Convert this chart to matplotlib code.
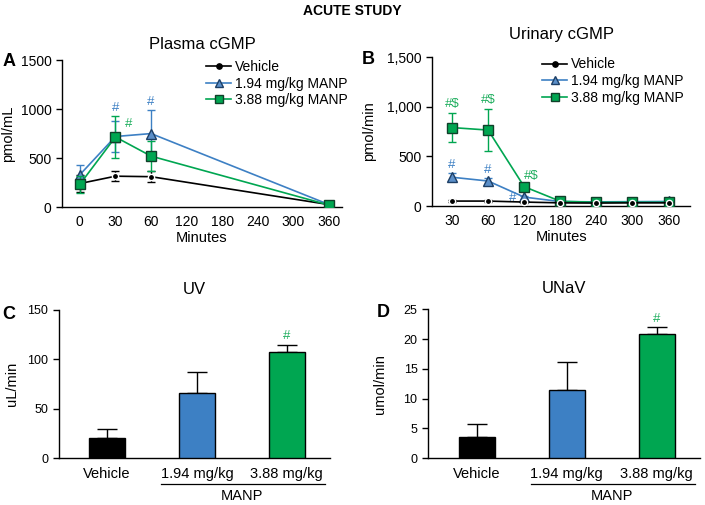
import matplotlib
matplotlib.use("Agg")
import matplotlib.pyplot as plt
from matplotlib.lines import Line2D
from matplotlib.ticker import FuncFormatter

plt.rcParams["font.family"] = ["Liberation Sans", "DejaVu Sans"]

# panel A: plasma cGMP
plasma_ticks = ["0", "30", "60", "120", "180", "240", "300", "360"]
plasma_pos = [0, 1, 2, 7]
plasma_vehicle = [240, 315, 310, 25]
plasma_vehicle_err = [90, 50, 55, 12]
plasma_low = [330, 720, 750, 25]
plasma_low_err = [100, 155, 245, 10]
plasma_high = [232, 715, 520, 20]
plasma_high_err = [90, 215, 150, 10]

# panel B: urinary cGMP
urine_ticks = ["30", "60", "120", "180", "240", "300", "360"]
urine_vehicle = [50, 50, 40, 32, 30, 32, 32]
urine_vehicle_err = [6, 6, 5, 5, 5, 5, 5]
urine_low = [290, 252, 90, 45, 42, 44, 46]
urine_low_err = [40, 30, 15, 8, 6, 6, 6]
urine_high = [790, 765, 195, 48, 38, 38, 38]
urine_high_err = [148, 215, 20, 8, 6, 6, 6]

# panels C, D: bars
bar_labels = ["Vehicle", "1.94 mg/kg", "3.88 mg/kg"]
uv_vals = [20, 66, 107]
uv_err = [10, 21, 7.5]
unav_vals = [3.5, 11.5, 20.9]
unav_err = [2.2, 4.6, 1.1]

legend_labels = ["Vehicle", "1.94 mg/kg MANP", "3.88 mg/kg MANP"]

BLACK = "#000000"
BLUE = "#3d80c4"
BLUE_FACE = "#5b8fc9"
GREEN = "#00a651"
GREEN_TXT = "#1fae5e"

STYLES = [
    dict(color=BLACK, marker="o", ms=4.5, mfc=BLACK, mec="white", mew=1.0),
    dict(color=BLUE, marker="^", ms=6.5, mfc=BLUE_FACE, mec="#1d3f66", mew=1.0),
    dict(color=GREEN, marker="s", ms=7, mfc=GREEN, mec="#10402a", mew=1.0),
]

fig = plt.figure(figsize=(7.05, 5.05), dpi=100)


def style_axes(ax, tick_size):
    for s in ("top", "right"):
        ax.spines[s].set_visible(False)
    ax.spines["left"].set_linewidth(1.0)
    ax.spines["bottom"].set_linewidth(1.0)
    ax.tick_params(axis="y", labelsize=tick_size, length=4, width=1)
    ax.tick_params(axis="x", labelsize=tick_size, length=0, pad=6)


def line_panel(ax, x, series, errs, zorders):
    for i in [1, 2, 0]:
        st = STYLES[i]
        ax.errorbar(x, series[i], yerr=errs[i], color=st["color"], lw=1.2,
                    marker=st["marker"], ms=st["ms"], mfc=st["mfc"], mec=st["mec"],
                    mew=st["mew"], capsize=3, elinewidth=1.0, capthick=1.0,
                    ecolor=st["color"], zorder=zorders[i])


def legend_handles():
    hs = []
    for st in STYLES:
        hs.append(Line2D([], [], color=st["color"], lw=1.2, marker=st["marker"],
                         ms=st["ms"] * 0.85, mfc=st["mfc"],
                         mec=st["color"] if st["color"] == BLACK else st["mec"], mew=1.0))
    return hs


# ---- A ----
axA = fig.add_axes([0.088, 0.590, 0.397, 0.291])
style_axes(axA, 10)
line_panel(axA, plasma_pos,
           [plasma_vehicle, plasma_low, plasma_high],
           [plasma_vehicle_err, plasma_low_err, plasma_high_err], {0: 3, 1: 4, 2: 5})
axA.set_xlim(-0.5, 7.36)
axA.set_ylim(0, 1500)
axA.set_yticks([0, 500, 1000, 1500])
axA.set_xticks(range(len(plasma_ticks)))
axA.set_xticklabels(plasma_ticks)
axA.set_xlabel("Minutes", fontsize=10.5, labelpad=1)
axA.set_ylabel("pmol/mL", fontsize=10.5)
axA.set_title("Plasma cGMP", fontsize=12, pad=8)
axA.legend(legend_handles(), legend_labels, loc="upper left", bbox_to_anchor=(0.495, 1.04),
           frameon=False, fontsize=10, handlelength=1.8, handletextpad=0.3,
           labelspacing=0.2, borderaxespad=0)
axA.text(1, 1010, "#", color=BLUE, fontsize=9.5, ha="center", va="center")
axA.text(1.38, 850, "#", color=GREEN_TXT, fontsize=9.5, ha="center", va="center")
axA.text(2, 1070, "#", color=BLUE, fontsize=9.5, ha="center", va="center")

# ---- B ----
axB = fig.add_axes([0.613, 0.592, 0.366, 0.295])
style_axes(axB, 10)
xb = list(range(len(urine_ticks)))
line_panel(axB, xb,
           [urine_vehicle, urine_low, urine_high],
           [urine_vehicle_err, urine_low_err, urine_high_err], {0: 8, 1: 4, 2: 5})
axB.set_xlim(-0.55, 6.6)
axB.set_ylim(0, 1500)
axB.set_yticks([0, 500, 1000, 1500])
axB.yaxis.set_major_formatter(FuncFormatter(lambda v, p: f"{int(v):,}"))
axB.set_xticks(xb)
axB.set_xticklabels(urine_ticks)
axB.set_xlabel("Minutes", fontsize=10.5, labelpad=1)
axB.set_ylabel("pmol/min", fontsize=10.5, labelpad=8)
axB.set_title("Urinary cGMP", fontsize=12, pad=13)
axB.legend(legend_handles(), legend_labels, loc="upper left", bbox_to_anchor=(0.405, 1.035),
           frameon=False, fontsize=10, handlelength=1.8, handletextpad=0.3,
           labelspacing=0.2, borderaxespad=0)
for xi, yi in [(0, 1030), (1, 1064)]:
    axB.text(xi, yi, "#$", color=GREEN_TXT, fontsize=9.5, ha="center", va="center")
axB.text(2.2, 300, "#$", color=GREEN_TXT, fontsize=9.5, ha="center", va="center")
axB.text(0, 410, "#", color=BLUE, fontsize=9.5, ha="center", va="center")
axB.text(1, 362, "#", color=BLUE, fontsize=9.5, ha="center", va="center")
axB.text(1.67, 84, "#", color=BLUE, fontsize=9.5, ha="center", va="center")


def bar_panel(rect, vals, errs, ylim, yticks, ylabel, title, hash_y, ylabelpad):
    ax = fig.add_axes(rect)
    style_axes(ax, 9)
    x = range(len(vals))
    cols = [BLACK, BLUE, GREEN]
    ax.bar(x, vals, width=0.4, color=cols, edgecolor=BLACK, linewidth=1.0, zorder=3)
    ax.errorbar(x, vals, yerr=[[0] * len(errs), errs], fmt="none", ecolor=BLACK,
                elinewidth=1.0, capsize=7, capthick=1.0, zorder=2)
    ax.set_xlim(-0.54, 2.48)
    ax.set_ylim(*ylim)
    ax.set_yticks(yticks)
    ax.set_xticks(list(x))
    ax.set_xticklabels(bar_labels, fontsize=10.5)
    ax.set_ylabel(ylabel, fontsize=10.5, labelpad=ylabelpad)
    ax.set_title(title, fontsize=12, pad=11.5)
    ax.text(2, hash_y, "#", color=GREEN_TXT, fontsize=9.5, ha="center", va="center")
    # MANP group underline
    ax.plot([0.6, 2.42], [-0.17, -0.17], color=BLACK, lw=0.9,
            transform=ax.get_xaxis_transform(), clip_on=False)
    ax.text(1.5, -0.255, "MANP", fontsize=10.5, ha="center", va="center",
            transform=ax.get_xaxis_transform())
    return ax


bar_panel([0.083, 0.0925, 0.385, 0.294], uv_vals, uv_err, (0, 150),
          [0, 50, 100, 150], "uL/min", "UV", 124, 6)
bar_panel([0.607, 0.0925, 0.386, 0.295], unav_vals, unav_err, (0, 25),
          [0, 5, 10, 15, 20, 25], "umol/min", "UNaV", 23.4, 12)

fig.text(0.5, 0.979, "ACUTE STUDY", fontsize=10, fontweight="bold", ha="center", va="center")
for lab, xx, yy in [("A", 0.003, 0.879), ("B", 0.513, 0.883), ("C", 0.003, 0.378), ("D", 0.534, 0.382)]:
    fig.text(xx, yy, lab, fontsize=13, fontweight="bold", ha="left", va="center")

fig.savefig("out.png", dpi=100)
